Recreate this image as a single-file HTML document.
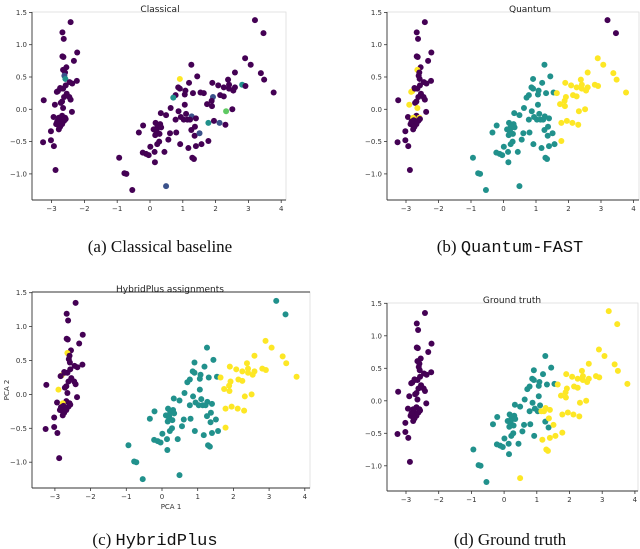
<!DOCTYPE html>
<html><head><meta charset="utf-8"><style>
body{margin:0;background:#fff;}
svg{display:block;font-family:"DejaVu Sans","Liberation Sans",sans-serif;}
.cap{font-family:"Liberation Serif",serif;font-size:17px;fill:#111;}
.mono{font-family:"Liberation Mono",monospace;}
</style></head><body>
<svg id="fig" width="640" height="549" viewBox="0 0 640 549"></svg>
<script>
// Iris PCA points (PC1, PC2)
const pcaX = [-2.42,-2.67,-2.63,-2.67,-2.22,-2.32,-2.55,-2.65,-2.59,-2.61,-2.58,-2.23,-2.45,-2.37,-2.74,-2.65,-2.81,-2.84,-2.54,-3.24,-2.62,-2.46,-2.42,-2.68,-2.72,-2.90,-2.65,-2.38,-2.68,-2.94,-2.78,-2.59,-2.76,-2.62,-2.71,-2.86,-2.81,-2.68,-2.78,-3.02,-3.26,-3.02,-2.93,-2.88,-2.57,-2.73,-2.74,-2.57,-2.83,-2.64,
1.26,0.91,1.19,1.44,1.54,1.31,0.86,0.91,1.08,1.06,0.78,0.71,0.63,1.06,0.33,0.49,0.87,0.94,0.78,1.03,1.10,0.17,0.31,0.23,0.11,0.20,0.34,-0.21,-0.34,0.20,0.29,0.16,0.80,0.61,1.26,1.36,0.56,0.28,0.22,0.01,0.92,-0.22,-0.12,-0.04,0.14,0.44,0.15,-0.94,-0.78,-0.72,-0.54,
3.20,3.46,2.90,3.07,3.38,3.48,3.77,2.59,2.38,2.41,1.90,2.08,2.25,2.59,2.54,2.41,2.81,2.91,1.64,1.92,2.14,2.25,1.88,1.74,1.89,2.32,2.51,1.27,1.14,1.22,1.40,1.37,1.78,1.95,2.12,2.30,1.51,1.78,1.57,1.40,1.17,1.29,1.34,0.49];
const pcaY = [1.35,1.19,1.09,0.82,0.88,0.75,0.65,0.61,0.57,0.52,0.47,0.44,0.42,0.40,0.33,0.32,0.28,0.27,0.24,0.14,0.19,0.19,0.15,0.12,0.10,0.07,0.02,-0.04,-0.10,-0.12,-0.13,-0.13,-0.17,-0.18,-0.21,-0.23,-0.24,-0.23,-0.31,-0.34,-0.51,-0.48,-0.57,-0.94,-0.15,0.32,-0.27,0.37,-0.19,0.81,
0.69,0.47,0.41,0.51,0.26,0.25,0.34,0.32,0.29,0.23,0.22,0.18,0.02,0.07,-0.06,-0.09,-0.03,-0.12,-0.16,-0.16,-0.07,-0.21,-0.23,-0.26,-0.31,-0.32,-0.28,-0.25,-0.36,-0.36,-0.38,-0.40,-0.36,-0.37,-0.32,-0.41,-0.47,-0.50,-0.54,-0.58,-0.54,-0.67,-0.69,-0.71,-0.66,-0.66,-0.82,-0.75,-0.99,-1.00,-1.25,
1.38,1.18,0.79,0.69,0.56,0.46,0.26,0.57,0.46,0.38,0.41,0.37,0.34,0.34,0.29,0.32,0.38,0.36,0.25,0.19,0.22,0.20,0.13,0.08,0.05,-0.03,0.00,-0.11,-0.16,-0.16,-0.14,-0.27,-0.21,-0.18,-0.21,-0.24,-0.37,-0.49,-0.54,-0.57,-0.60,-0.75,-0.77,-1.19];
// cluster label strings (0 purple,1 blue,2 teal,3 green,4 yellow)
const labelsTruth = "0".repeat(50) + "2".repeat(51) + "4".repeat(44);
const labelsQuantum = "0000000400"+"0000004400"+"0000044000"+"4400000000"+"0000000000" + "2".repeat(51) + "00"+"4".repeat(25)+"22222"+"4444"+"2"+"4"+"222222";
const labelsHybrid = "0000000400"+"0000004000"+"0000040000"+"4000000000"+"0000000000" + "2".repeat(51) + "22"+"4".repeat(25)+"22222"+"4444"+"2"+"4"+"222222";
const classicalIdx = [9,10,51,61,117,120,126,128,133,135,137,144];
const classicalLab = [1,2,4,2,2,1,3,1,2,1,1,1];
const xTicks = [-3,-2,-1,0,1,2,3,4];
const yTicks = [1.5,1.0,0.5,0.0,-0.5,-1.0];
const palette = ["#440154","#3b528b","#21918c","#5ec962","#fde725"];

const NS="http://www.w3.org/2000/svg";
const svg=document.getElementById('fig');
function mk(tag,attrs,parent,text){const e=document.createElementNS(NS,tag);for(const k in attrs)e.setAttribute(k,attrs[k]);if(text!==undefined)e.textContent=text;(parent||svg).appendChild(e);return e;}

function classicalLabels(){const a=new Array(pcaX.length).fill(0);classicalIdx.forEach((i,k)=>a[i]=classicalLab[k]);return a;}

const panels=[
 {id:'classical',title:'Classical',tx:160,ty:8,x0:150,sx:32.8,y0:109.3,sy:64.6,L:32,R:286,T:12,B:200,labels:classicalLabels(),xl:false},
 {id:'quantum',title:'Quantum',tx:530,ty:8,x0:503.5,sx:32.5,y0:109.3,sy:64.6,L:387,R:639,T:12,B:200,labels:labelsQuantum.split('').map(Number),xl:false},
 {id:'hybrid',title:'HybridPlus assignments',tx:170,ty:288,x0:162,sx:35.7,y0:394.4,sy:67.8,L:32,R:310,T:292,B:488,labels:labelsHybrid.split('').map(Number),xl:true},
 {id:'truth',title:'Ground truth',tx:512,ty:299,x0:504.1,sx:32.7,y0:400.8,sy:65,L:387,R:638,T:303,B:491,labels:labelsTruth.split('').map(Number),xl:false}
];

panels.forEach(p=>{
  const g=mk('g',{});
  
  
  const X=v=>p.x0+v*p.sx, Y=v=>p.y0-v*p.sy;
  const fr=mk('rect',{x:p.L,y:p.T,width:p.R-p.L,height:p.B-p.T,fill:'none',stroke:'#ddd','stroke-width':0.8},g);
  
  mk('line',{x1:p.L,y1:p.T,x2:p.L,y2:p.B,stroke:'#333','stroke-width':0.9},g);
  mk('line',{x1:p.L,y1:p.B,x2:p.R,y2:p.B,stroke:'#333','stroke-width':0.9},g);
  if(p.id==='hybrid')mk('line',{x1:p.L,y1:p.T,x2:p.R,y2:p.T,stroke:'#333','stroke-width':0.9},g);
  const t=mk('text',{x:p.tx,y:p.ty+4,'text-anchor':'middle','font-size':9,fill:'#222'},g,p.title);
  
  xTicks.forEach(v=>{
    mk('line',{x1:X(v),y1:p.B,x2:X(v),y2:p.B+3,stroke:'#333','stroke-width':0.8},g);
    const tl=mk('text',{x:X(v),y:p.B+11,'text-anchor':'middle','font-size':7,fill:'#333'},g,v<0?'\u2212'+(-v):String(v));
    
  });
  yTicks.forEach(v=>{
    mk('line',{x1:p.L-3,y1:Y(v),x2:p.L,y2:Y(v),stroke:'#333','stroke-width':0.8},g);
    const s=v<0?'\u2212'+(-v).toFixed(1):v.toFixed(1);
    const tl=mk('text',{x:p.L-5,y:Y(v)+2.5,'text-anchor':'end','font-size':7,fill:'#333'},g,s);
    
  });
  if(p.xl){
    const a=mk('text',{x:(p.L+p.R)/2,y:p.B+21,'text-anchor':'middle','font-size':7,fill:'#333'},g,'PCA 1');
    
    const b=mk('text',{x:9,y:(p.T+p.B)/2,'text-anchor':'middle','font-size':7,fill:'#333',transform:`rotate(-90 9 ${(p.T+p.B)/2})`},g,'PCA 2');
    
  }
  pcaX.forEach((v,i)=>{
    const c=mk('circle',{cx:X(v),cy:Y(pcaY[i]),r:3,fill:palette[p.labels[i]]},g);
    
    
  });
});
</script>
<svg width="0" height="0" style="position:absolute"></svg>
<div style="position:absolute;left:0;top:0;width:640px;height:549px;pointer-events:none">
<svg width="640" height="549">
<text class="cap" x="160" y="252" text-anchor="middle">(a) Classical baseline</text>
<text class="cap" x="510" y="252" text-anchor="middle">(b) <tspan class="mono">Quantum-FAST</tspan></text>
<text class="cap" x="155" y="545" text-anchor="middle">(c) <tspan class="mono">HybridPlus</tspan></text>
<text class="cap" x="510" y="545" text-anchor="middle">(d) Ground truth</text>
</svg></div>
</body></html>
